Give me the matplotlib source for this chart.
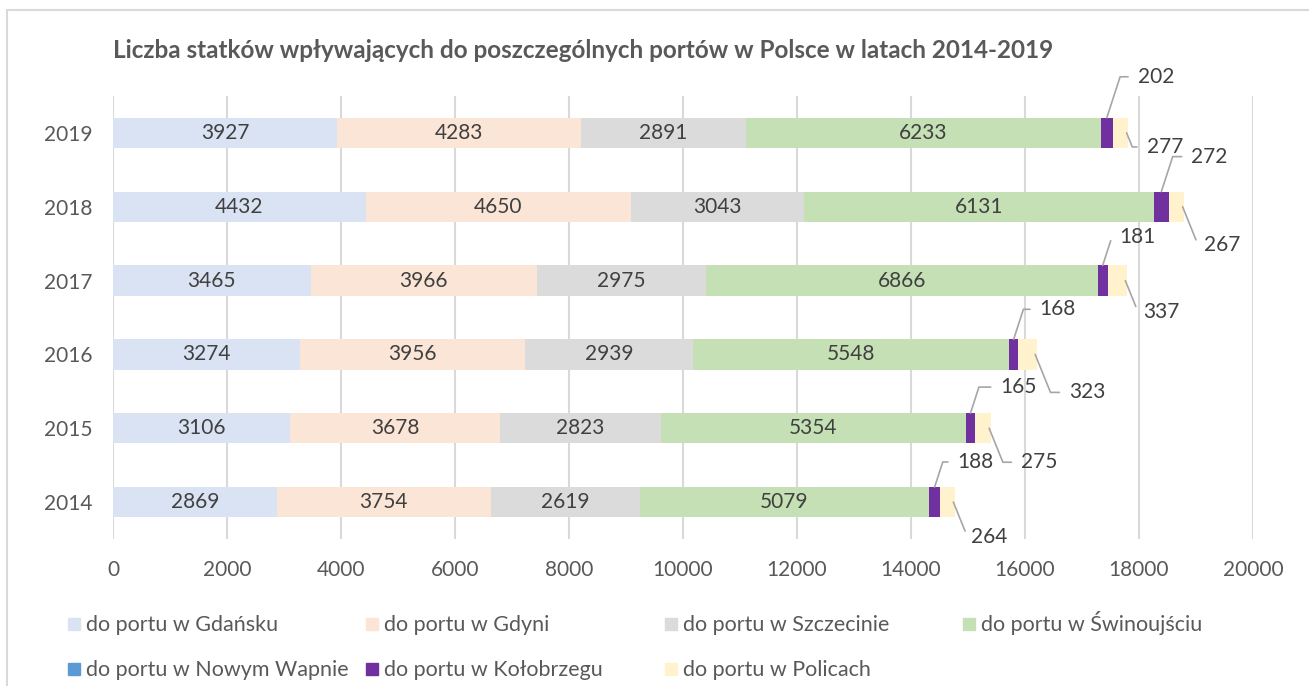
import numpy as np
import matplotlib.pyplot as plt
from matplotlib.patches import Rectangle

plt.rcParams['font.family'] = ['Lato', 'DejaVu Sans']

years = ['2014', '2015', '2016', '2017', '2018', '2019']
series = ['do portu w Gdańsku', 'do portu w Gdyni', 'do portu w Szczecinie',
          'do portu w Świnoujściu', 'do portu w Nowym Wapnie',
          'do portu w Kołobrzegu', 'do portu w Policach']
gdansk = [2869, 3106, 3274, 3465, 4432, 3927]
gdynia = [3754, 3678, 3956, 3966, 4650, 4283]
szczecin = [2619, 2823, 2939, 2975, 3043, 2891]
swinoujscie = [5079, 5354, 5548, 6866, 6131, 6233]
nowe_wapno = [0, 0, 0, 0, 0, 0]
kolobrzeg = [188, 165, 168, 181, 272, 202]
police = [264, 275, 323, 337, 267, 277]
colors = ['#dae3f3', '#fbe5d6', '#dbdbdb', '#c5e0b4', '#5b9bd5', '#7030a0', '#fff2cc']

# label offsets (pixels, to the left edge of the text) for the small segments
kol_off = [(23, 25), (30, 26), (26, 30), (17, 28), (30, 35), (31, 41)]
pol_off = [(18, -35), (32, -34), (34, -38), (18, -31), (21, -38), (20, -14)]

text_col = '#595959'
grid_col = '#d9d9d9'
fs = 15

fig = plt.figure(figsize=(13.09, 6.86), dpi=100)
ax = fig.add_axes([113 / 1309, 1 - 539 / 686, 1140 / 1309, 443 / 686])

data = [gdansk, gdynia, szczecin, swinoujscie, nowe_wapno, kolobrzeg, police]
y = np.arange(len(years))
left = np.zeros(len(years))
lefts = []
for vals, c, name in zip(data, colors, series):
    vals = np.array(vals, dtype=float)
    ax.barh(y, vals, left=left, height=0.41, color=c, label=name, zorder=2)
    lefts.append(left.copy())
    left = left + vals

# labels inside the big segments
for k in range(4):
    for i in range(len(years)):
        v = data[k][i]
        ax.text(lefts[k][i] + v / 2, y[i], str(v), ha='center', va='center',
                fontsize=fs, color='#404040', zorder=3)

px = 0.72  # points per pixel
line_kw = dict(arrowstyle='-', color='#a6a6a6', lw=1.2, shrinkA=5, shrinkB=0,
               relpos=(0, 0.5))
for i in range(len(years)):
    # Kołobrzeg above
    xk = lefts[5][i] + kolobrzeg[i] / 2
    dx, dy = kol_off[i]
    ax.annotate(str(kolobrzeg[i]), xy=(xk, y[i] + 0.205), xytext=(dx * px, dy * px),
                textcoords='offset points', ha='left', va='center', fontsize=fs,
                color='#404040', zorder=4,
                arrowprops=dict(connectionstyle='angle,angleA=0,angleB=72', **line_kw))
    # Police below
    xp = lefts[6][i] + police[i]
    dx, dy = pol_off[i]
    ax.annotate(str(police[i]), xy=(xp - 30, y[i]), xytext=(dx * px, dy * px),
                textcoords='offset points', ha='left', va='center', fontsize=fs,
                color='#404040', zorder=4,
                arrowprops=dict(connectionstyle='angle,angleA=0,angleB=-68', **line_kw))

ax.set_xlim(0, 20000)
ax.set_ylim(-0.5, len(years) - 0.5)
ax.set_xticks(np.arange(0, 20001, 2000))
ax.set_yticks(y)
ax.set_yticklabels(years)
ax.tick_params(length=0, labelsize=fs, colors=text_col)
ax.tick_params(axis='x', pad=15)
ax.tick_params(axis='y', pad=15)
ax.grid(axis='x', color=grid_col, lw=1.5, zorder=0)
ax.set_axisbelow(True)
for s in ax.spines.values():
    s.set_visible(False)

fig.text(113 / 1309, 1 - 48 / 686,
         'Liczba statków wpływających do poszczególnych portów w Polsce w latach 2014-2019',
         fontsize=17.5, fontweight='bold', color=text_col, va='center_baseline', ha='left')

# legend, Excel style grid of entries
col_x = [68, 366, 665, 963]
row_y = [624, 669]
W, H = 1309, 686
for n, (name, c) in enumerate(zip(series, colors)):
    r, col = divmod(n, 4)
    x0 = col_x[col]
    y0 = row_y[r]
    fig.patches.append(Rectangle((x0 / W, 1 - (y0 + 6) / H), 12 / W, 12 / H,
                                 transform=fig.transFigure, color=c))
    fig.text((x0 + 18) / W, 1 - (y0 + 7) / H, name, fontsize=15.5, color=text_col,
             va='baseline', ha='left')

# chart border
fig.patches.append(Rectangle((7 / W, -0.1), 1.2, 1 - 10 / H + 0.1,
                             transform=fig.transFigure, fill=False,
                             edgecolor='#d9d9d9', lw=1.5))

fig.savefig('out.png', dpi=100)
